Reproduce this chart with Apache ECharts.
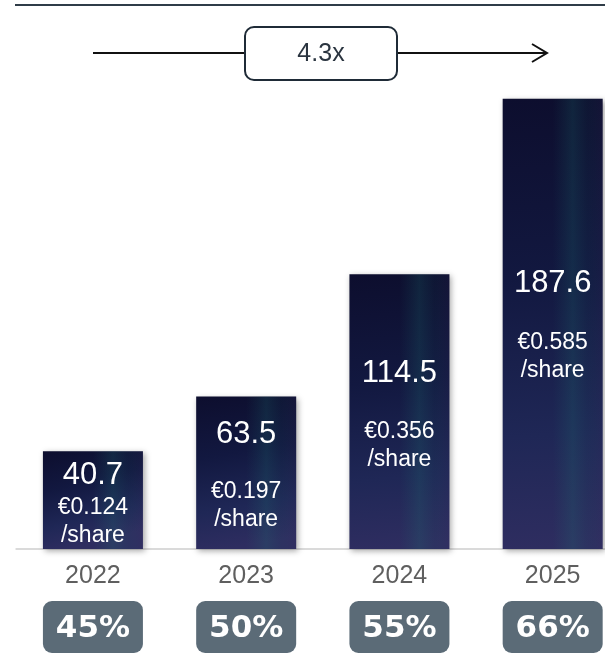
<!DOCTYPE html>
<html><head><meta charset="utf-8">
<script src="https://cdn.jsdelivr.net/npm/echarts@6/dist/echarts.min.js"></script>
<style>html,body{margin:0;padding:0;background:#fff}#c{width:605px;height:654px}</style>
</head><body><div id="c"></div>
<script>
const years = ['2022', '2023', '2024', '2025'];
const values = [40.7, 63.5, 114.5, 187.6];
const perShare = ['€0.124', '€0.197', '€0.356', '€0.585'];
const payout = ['45%', '50%', '55%', '66%'];
const multiple = '4.3x';

// label placement (pixels below bar top) — styling only
const valueOffset = [24, 38, 99, 185];
const shareOffset = [70, 109, 171, 258];

const barFill = {
  type: 'linear', x: 0, y: 0, x2: 0.25, y2: 1,
  colorStops: [
    { offset: 0, color: '#0d0e2e' },
    { offset: 0.4, color: '#121840' },
    { offset: 0.75, color: '#1f2756' },
    { offset: 1, color: '#2e2d60' }
  ]
};
const streak = {
  type: 'linear', x: 0, y: 0, x2: 1, y2: 0,
  colorStops: [
    { offset: 0, color: 'rgba(30,110,110,0)' },
    { offset: 0.5, color: 'rgba(30,110,110,0)' },
    { offset: 0.7, color: 'rgba(30,125,118,0.2)' },
    { offset: 0.85, color: 'rgba(30,110,110,0.08)' },
    { offset: 1, color: 'rgba(70,55,105,0.12)' }
  ]
};

const chart = echarts.init(document.getElementById('c'), null, { renderer: 'canvas' });
chart.setOption({
  backgroundColor: '#ffffff',
  animation: false,
  grid: { left: 16.3, width: 613, top: 69, height: 480, outerBoundsMode: 'none', containLabel: false },
  xAxis: [
    {
      type: 'category', data: years, position: 'bottom',
      axisLine: { show: true, lineStyle: { color: '#dadada', width: 2 } },
      axisTick: { show: false },
      axisLabel: { color: '#5f5f5f', fontSize: 25, fontFamily: 'Liberation Sans, Arial', margin: 15 }
    },
    {
      type: 'category', data: payout, position: 'bottom',
      axisLine: { show: false }, axisTick: { show: false },
      axisLabel: {
        margin: 52, color: '#ffffff', fontSize: 31, fontWeight: 'bold',
        fontFamily: 'DejaVu Sans', backgroundColor: '#5b6b77',
        width: 100, height: 49, lineHeight: 49, align: 'center',
        borderRadius: 9, padding: [3, 0, 0, 0]
      }
    }
  ],
  yAxis: { type: 'value', min: 0, max: 200, show: false },
  series: [
    {
      type: 'bar', barWidth: 100, xAxisIndex: 0,
      data: values,
      itemStyle: {
        color: barFill, shadowColor: 'rgba(0,0,0,0.35)', shadowBlur: 6,
        shadowOffsetX: 2, shadowOffsetY: 2
      },
      z: 3
    },
    {
      type: 'bar', barWidth: 100, barGap: '-100%', xAxisIndex: 0,
      data: values,
      itemStyle: { color: streak },
      z: 4
    },
    {
      type: 'bar', barWidth: 100, barGap: '-100%', xAxisIndex: 0,
      data: values.map((v, i) => ({
        value: v,
        label: {
          show: true, position: ['50%', valueOffset[i]], align: 'center', verticalAlign: 'middle',
          formatter: String(v), color: '#ffffff', fontSize: 31, fontFamily: 'Liberation Sans, Arial'
        }
      })),
      itemStyle: { color: 'rgba(0,0,0,0)' },
      z: 5
    },
    {
      type: 'bar', barWidth: 100, barGap: '-100%', xAxisIndex: 0,
      data: values.map((v, i) => ({
        value: v,
        label: {
          show: true, position: ['50%', shareOffset[i]], align: 'center', verticalAlign: 'middle',
          formatter: perShare[i] + '\n/share', color: '#ffffff', fontSize: 23, lineHeight: 28,
          fontFamily: 'Liberation Sans, Arial'
        }
      })),
      itemStyle: { color: 'rgba(0,0,0,0)' },
      z: 6
    }
  ],
  graphic: [
    { type: 'line', shape: { x1: 15, y1: 5, x2: 605, y2: 5 }, style: { stroke: '#2f3c48', lineWidth: 2 } },
    { type: 'line', shape: { x1: 93, y1: 53, x2: 547, y2: 53 }, style: { stroke: '#111111', lineWidth: 2 } },
    { type: 'polyline', shape: { points: [[532, 44], [547, 53], [532, 62]] }, style: { stroke: '#111111', lineWidth: 2, fill: null } },
    {
      type: 'rect', shape: { x: 245, y: 27, width: 152, height: 53, r: 9 },
      style: { fill: '#ffffff', stroke: '#1f2b37', lineWidth: 2 }, z: 10
    },
    {
      type: 'text', x: 321, y: 54, z: 11,
      style: { text: multiple, fill: '#2b3540', fontSize: 25, fontFamily: 'Liberation Sans, Arial', align: 'center', verticalAlign: 'middle' }
    }
  ]
});
</script></body></html>
